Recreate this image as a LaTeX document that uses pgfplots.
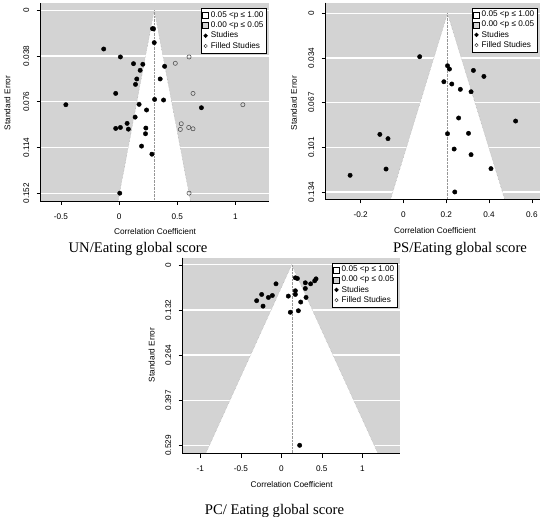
\documentclass[border=0pt]{standalone}
\usepackage{fontspec}
\setmainfont{Liberation Sans}
\newfontfamily\capfont{Liberation Serif}
\usepackage{pgfplots}
\pgfplotsset{compat=1.18}
\definecolor{rgray}{RGB}{211,211,211}
\definecolor{fgray}{RGB}{150,150,150}

\pgfplotsset{fp/.style={
  scale only axis, y dir=reverse,
  axis background/.style={fill=rgray},
  axis line style={draw=none},
  ymajorgrids, major grid style={white, line width=1.2pt},
  tick align=outside, major tick length=4pt,
  tick style={black, line width=0.5pt},
  tick pos=left,
  ticklabel style={font=\fontsize{8.2}{9}\selectfont},
  yticklabel style={rotate=90, anchor=south},
  yticklabel shift=4pt, xticklabel shift=5pt,
  legend style={at={(axis description cs:0.99,0.975)}, anchor=north east,
    draw=black, line width=0.7pt, fill=white,
    font=\fontsize{8.2}{9}\selectfont, inner sep=1.2pt, row sep=-1.2pt,
    cells={anchor=west}},
  legend cell align=left,
  after end axis/.code={\draw[black, line width=0.6pt] (axis description cs:0,1) -- (axis description cs:0,0) -- (axis description cs:1,0);},
}}
\newcommand\fplegend{%
  \addlegendimage{legend image code/.code={\draw[black,fill=white,line width=0.4pt] (0pt,-3pt) rectangle (6pt,3pt);}}
  \addlegendentry{0.05 <p ≤ 1.00}
  \addlegendimage{legend image code/.code={\draw[black,fill=rgray,line width=0.4pt] (0pt,-3pt) rectangle (6pt,3pt);}}
  \addlegendentry{0.00 <p ≤ 0.05}
  \addlegendimage{legend image code/.code={\fill[black] (3pt,0pt) circle (1.8pt);}}
  \addlegendentry{Studies}
  \addlegendimage{legend image code/.code={\draw[black!80,line width=0.5pt] (3pt,0pt) circle (1.7pt);}}
  \addlegendentry{Filled Studies}%
}
\pgfplotsset{studpts/.style={only marks, mark=*, mark size=2.2pt, black, forget plot},
  filledpts/.style={only marks, mark=o, mark size=2.1pt, mark options={draw=black!70, fill=white, line width=0.55pt}, forget plot}}

\begin{document}
\begin{tikzpicture}[x=1pt,y=1pt]
\useasboundingbox (0,0) rectangle (550,517);

% Panel 1: UN
\begin{axis}[fp, at={(40.7pt,316pt)}, anchor=south west, width=228.6pt, height=197.5pt,
  xmin=-0.673, xmax=1.29, ymin=-0.0056, ymax=0.1585,
  xtick={-0.5,0,0.5,1}, xticklabels={-0.5,0,0.5,1},
  ytick={0,0.038,0.076,0.114,0.152}, yticklabels={0,0.038,0.076,0.114,0.152}]
\fplegend
\addplot[fill=white, draw=none, mark=none, forget plot] coordinates {(-0.0087,0.1585) (0.302,0) (0.6127,0.1585) (-0.0087,0.1585)};
\addplot[fgray, densely dotted, mark=none, forget plot] coordinates {(-0.0087,0.1585) (0.302,0) (0.6127,0.1585)};
\addplot[fgray, densely dotted, mark=none, forget plot] coordinates {(0.302,0) (0.302,0.1585)};
\addplot[studpts] coordinates {
(0.287,0.0153) (0.296,0.0155) (0.302,0.0269) (-0.132,0.0322) (0.0115,0.0388)
(0.124,0.0444) (0.204,0.0449) (0.391,0.0466) (0.181,0.0499) (0.152,0.0571)
(0.353,0.0571) (0.141,0.0616) (-0.029,0.0691) (0.305,0.0741) (0.382,0.0746)
(-0.457,0.0785) (0.172,0.0782) (0.707,0.0810) (0.236,0.0829) (0.138,0.0888)
(0.069,0.0940) (0.0115,0.0974) (-0.029,0.0982) (0.080,0.0988) (0.230,0.0979)
(0.227,0.1026) (0.193,0.1129) (0.282,0.1196) (0.006,0.152)};
\addplot[filledpts] coordinates {
(0.601,0.0388) (0.483,0.0441) (0.635,0.0691) (1.063,0.0785) (0.534,0.0943)
(0.526,0.0990) (0.598,0.0974) (0.635,0.0985) (0.601,0.152)};
\end{axis}

% Panel 2: PS
\begin{axis}[fp, at={(325.7pt,317.7pt)}, anchor=south west, width=214.3pt, height=196.6pt,
  xmin=-0.363, xmax=0.638, ymin=-0.008, ymax=0.1395,
  xtick={-0.2,0,0.2,0.4,0.6}, xticklabels={-0.2,0,0.2,0.4,0.6},
  ytick={0,0.0335,0.067,0.1005,0.134}, yticklabels={0,0.034,0.067,0.101,0.134}]
\fplegend
\addplot[fill=white, draw=none, mark=none, forget plot] coordinates {(-0.060,0.1395) (0.206,0) (0.473,0.1395) (-0.060,0.1395)};
\addplot[fgray, densely dotted, mark=none, forget plot] coordinates {(-0.060,0.1395) (0.206,0) (0.473,0.1395)};
\addplot[fgray, densely dotted, mark=none, forget plot] coordinates {(0.206,0) (0.206,0.1395)};
\addplot[studpts] coordinates {
(0.076,0.0325) (0.206,0.0393) (0.215,0.0418) (0.327,0.0428) (0.376,0.0473)
(0.189,0.0513) (0.226,0.0530) (0.266,0.0570) (0.316,0.0588) (0.258,0.0785)
(0.524,0.0808) (-0.110,0.0908) (-0.072,0.0940) (0.206,0.0903) (0.304,0.0900)
(0.237,0.1018) (0.316,0.1060) (-0.081,0.1168) (0.409,0.1165) (-0.249,0.1215)
(0.240,0.1340)};
\end{axis}

% Panel 3: PC
\begin{axis}[fp, at={(182.7pt,63.5pt)}, anchor=south west, width=217.3pt, height=195.8pt,
  xmin=-1.218, xmax=1.465, ymin=-0.021, ymax=0.553,
  xtick={-1,-0.5,0,0.5,1}, xticklabels={-1,-0.5,0,0.5,1},
  ytick={0,0.13225,0.2645,0.39675,0.529}, yticklabels={0,0.132,0.264,0.397,0.529}]
\fplegend
\addplot[fill=white, draw=none, mark=none, forget plot] coordinates {(-0.934,0.553) (0.128,0) (1.193,0.553) (-0.934,0.553)};
\addplot[fgray, densely dotted, mark=none, forget plot] coordinates {(-0.934,0.553) (0.128,0) (1.193,0.553)};
\addplot[fgray, densely dotted, mark=none, forget plot] coordinates {(0.128,0) (0.128,0.553)};
\addplot[studpts] coordinates {
(-0.066,0.0556) (0.173,0.038) (0.198,0.040) (0.296,0.0526) (0.362,0.0556)
(0.412,0.0468) (0.428,0.041) (-0.243,0.0867) (-0.305,0.105) (-0.226,0.121)
(-0.160,0.0955) (-0.111,0.0897) (0.086,0.0916) (0.173,0.076) (0.173,0.0867)
(0.296,0.0692) (0.305,0.0955) (0.239,0.109) (0.111,0.139) (0.210,0.1345)
(0.226,0.529)};
\end{axis}

% axis titles and captions
\node[rotate=90, font=\fontsize{8.3}{9}\selectfont] at (7.5,414) {Standard Error};
\node[font=\fontsize{8.3}{9}\selectfont] at (155,285) {Correlation Coefficient};
\node[anchor=base, font=\capfont\fontsize{14.7}{16}\selectfont] at (138,264.7) {UN/Eating global score};

\node[rotate=90, font=\fontsize{8.3}{9}\selectfont] at (294,414) {Standard Error};
\node[font=\fontsize{8.3}{9}\selectfont] at (435,286.3) {Correlation Coefficient};
\node[anchor=base, font=\capfont\fontsize{14.7}{16}\selectfont] at (460,264.7) {PS/Eating global score};

\node[rotate=90, font=\fontsize{8.3}{9}\selectfont] at (151.7,162) {Standard Error};
\node[font=\fontsize{8.3}{9}\selectfont] at (291.7,32) {Correlation Coefficient};
\node[anchor=base, font=\capfont\fontsize{14.7}{16}\selectfont] at (274.5,2.5) {PC/ Eating global score};
\end{tikzpicture}
\end{document}
